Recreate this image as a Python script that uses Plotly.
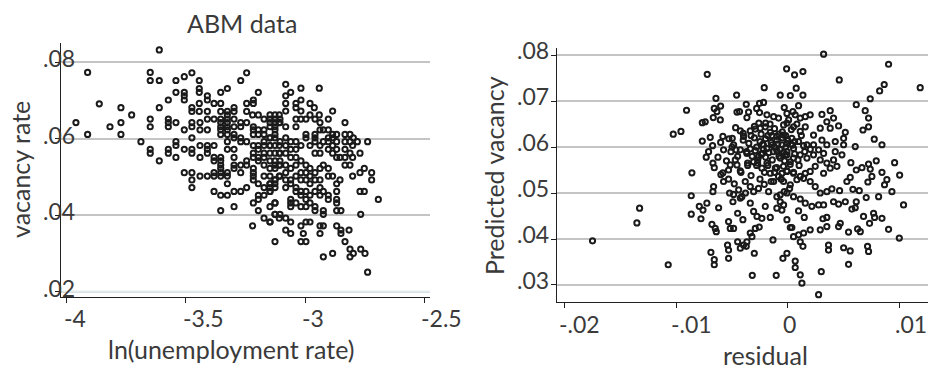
import plotly.graph_objects as go

# ---------------- data ----------------
# Left panel: ABM data, (ln unemployment rate, vacancy rate)
abm_points = [
    (-3.913, .0773), (-3.864, .0691), (-3.962, .0642), (-3.913, .0611), (-3.819, .0631),
    (-3.773, .0681), (-3.773, .0642), (-3.773, .0611), (-3.728, .0662), (-3.689, .0592),
    (-3.612, .0832),
    (-3.650, .0773), (-3.650, .0752), (-3.612, .0752), (-3.542, .0752), (-3.507, .0762),
    (-3.475, .0772), (-3.444, .0752), (-3.270, .0752), (-3.245, .0772),
    (-3.444, .0731), (-3.444, .0721), (-3.542, .0721), (-3.507, .0721), (-3.507, .0712),
    (-3.507, .0701), (-3.574, .0701), (-3.410, .0712), (-3.410, .0701), (-3.354, .0721),
    (-3.326, .0731), (-3.196, .0721), (-3.612, .0681),
    (-3.475, .0681), (-3.475, .0671), (-3.444, .0692), (-3.444, .0671), (-3.410, .0671),
    (-3.382, .0692), (-3.354, .0692), (-3.354, .0671), (-3.326, .0671), (-3.326, .0662),
    (-3.298, .0681), (-3.298, .0671), (-3.245, .0692), (-3.245, .0671), (-3.217, .0701),
    (-3.217, .0692), (-3.220, .0662), (-3.196, .0662), (-3.172, .0651),
    (-3.650, .0651), (-3.650, .0631), (-3.574, .0651), (-3.574, .0642), (-3.574, .0631),
    (-3.542, .0642), (-3.507, .0623), (-3.475, .0642), (-3.475, .0631), (-3.441, .0642),
    (-3.441, .0623), (-3.410, .0651), (-3.410, .0623), (-3.382, .0651),
    (-3.354, .0651), (-3.354, .0642), (-3.354, .0631), (-3.354, .0623), (-3.354, .0611),
    (-3.326, .0651), (-3.326, .0642), (-3.326, .0631), (-3.326, .0623), (-3.326, .0611),
    (-3.298, .0651), (-3.298, .0631), (-3.298, .0611), (-3.270, .0642), (-3.270, .0631),
    (-3.245, .0642), (-3.217, .0631), (-3.217, .0623), (-3.217, .0611), (-3.196, .0623),
    (-3.196, .0611), (-3.172, .0623), (-3.172, .0611), (-3.147, .0662), (-3.147, .0642),
    (-3.147, .0631), (-3.126, .0651), (-3.126, .0631), (-3.126, .0611), (-3.108, .0662),
    (-3.108, .0642),
    (-3.650, .0572), (-3.650, .0562), (-3.612, .0542), (-3.574, .0572), (-3.574, .0562),
    (-3.542, .0592), (-3.542, .0582), (-3.542, .0551), (-3.507, .0572), (-3.475, .0602),
    (-3.475, .0572), (-3.475, .0562), (-3.441, .0582), (-3.441, .0551), (-3.410, .0582),
    (-3.410, .0572), (-3.410, .0562), (-3.382, .0582), (-3.382, .0551), (-3.382, .0542),
    (-3.354, .0551), (-3.354, .0542), (-3.354, .0531), (-3.354, .0522), (-3.326, .0592),
    (-3.326, .0572), (-3.298, .0602), (-3.298, .0572), (-3.298, .0551), (-3.298, .0531),
    (-3.270, .0602), (-3.270, .0592), (-3.270, .0531), (-3.245, .0592), (-3.245, .0542),
    (-3.217, .0582), (-3.217, .0562), (-3.217, .0551), (-3.217, .0522), (-3.217, .0511),
    (-3.217, .0502), (-3.196, .0582), (-3.196, .0572), (-3.196, .0551), (-3.196, .0542),
    (-3.172, .0592), (-3.172, .0582), (-3.172, .0562), (-3.172, .0551), (-3.172, .0531),
    (-3.147, .0602), (-3.147, .0582), (-3.147, .0562), (-3.147, .0542), (-3.147, .0522),
    (-3.126, .0582), (-3.126, .0562), (-3.126, .0542), (-3.126, .0531), (-3.108, .0582),
    (-3.108, .0562), (-3.108, .0531),
    (-3.507, .0511), (-3.475, .0511), (-3.475, .0492), (-3.475, .0472), (-3.441, .0502),
    (-3.410, .0502), (-3.382, .0511), (-3.382, .0502), (-3.354, .0511), (-3.354, .0502),
    (-3.326, .0511), (-3.326, .0502), (-3.326, .0482), (-3.270, .0511), (-3.245, .0531),
    (-3.298, .0522),
    (-3.382, .0462), (-3.354, .0452), (-3.326, .0452), (-3.298, .0462), (-3.270, .0462),
    (-3.245, .0472), (-3.217, .0492), (-3.217, .0432), (-3.196, .0482), (-3.196, .0452),
    (-3.196, .0441), (-3.172, .0502), (-3.172, .0472), (-3.172, .0452), (-3.147, .0482),
    (-3.147, .0472), (-3.147, .0462), (-3.126, .0492), (-3.126, .0482), (-3.126, .0432),
    (-3.108, .0502),
    (-3.354, .0412), (-3.298, .0422), (-3.196, .0412), (-3.172, .0392), (-3.147, .0382),
    (-3.126, .0402), (-3.108, .0392), (-3.220, .0372), (-3.126, .0331),
    (-3.081, .0742), (-3.081, .0712), (-3.060, .0721), (-3.081, .0692), (-3.081, .0672),
    (-3.017, .0732), (-2.940, .0732), (-3.038, .0692), (-3.017, .0701), (-3.038, .0681),
    (-3.017, .0672), (-2.979, .0692), (-2.961, .0681), (-2.884, .0672), (-2.832, .0642),
    (-3.126, .0662), (-3.126, .0642), (-3.147, .0651), (-3.105, .0651), (-3.105, .0642),
    (-3.126, .0623), (-3.081, .0631), (-3.038, .0651), (-3.017, .0651),
    (-2.996, .0651), (-2.979, .0662), (-2.958, .0651), (-2.940, .0662), (-2.937, .0642),
    (-2.902, .0651), (-3.038, .0631), (-2.996, .0611), (-2.996, .0602), (-2.958, .0611),
    (-2.958, .0602), (-2.937, .0623), (-2.923, .0623), (-2.902, .0623), (-2.884, .0611),
    (-2.884, .0602), (-2.867, .0611), (-2.902, .0602), (-2.832, .0611), (-2.811, .0611),
    (-2.797, .0602), (-2.780, .0592), (-2.737, .0592), (-2.832, .0592), (-2.811, .0592),
    (-2.800, .0582), (-2.769, .0562),
    (-3.147, .0602), (-3.126, .0602), (-3.147, .0582), (-3.105, .0592), (-3.081, .0602),
    (-3.081, .0582), (-3.060, .0592), (-3.060, .0572), (-3.038, .0592), (-3.038, .0572),
    (-3.017, .0582), (-3.105, .0562), (-3.081, .0562), (-3.060, .0551), (-3.038, .0551),
    (-2.979, .0582), (-2.958, .0592), (-2.958, .0562), (-2.937, .0582), (-2.937, .0562),
    (-2.923, .0592), (-2.902, .0592), (-2.902, .0572), (-2.884, .0582), (-2.884, .0562),
    (-2.867, .0592), (-2.867, .0572), (-2.867, .0551), (-2.832, .0572), (-2.832, .0551),
    (-2.811, .0562), (-2.800, .0551), (-2.853, .0551), (-2.832, .0531), (-2.811, .0531),
    (-3.105, .0542), (-3.126, .0522), (-3.105, .0531), (-3.081, .0531), (-3.081, .0511),
    (-3.060, .0522), (-3.038, .0531), (-3.017, .0542), (-2.996, .0531), (-2.979, .0522),
    (-2.996, .0511), (-3.017, .0511), (-2.958, .0511), (-2.937, .0522), (-2.923, .0531),
    (-2.902, .0522), (-2.884, .0502), (-2.902, .0502), (-2.853, .0492), (-2.867, .0482),
    (-2.937, .0492), (-2.958, .0492), (-2.979, .0502), (-2.979, .0482), (-2.996, .0492),
    (-3.017, .0492), (-3.038, .0502), (-3.060, .0492), (-3.081, .0492), (-3.105, .0502),
    (-3.126, .0492), (-3.147, .0502), (-3.147, .0482), (-3.126, .0472), (-3.147, .0462),
    (-2.800, .0502), (-2.769, .0511), (-2.751, .0522), (-2.720, .0511), (-2.720, .0492),
    (-3.081, .0472), (-3.060, .0482), (-3.038, .0472), (-3.038, .0462), (-3.017, .0462),
    (-3.017, .0452), (-2.996, .0462), (-2.996, .0441), (-2.979, .0452), (-2.958, .0462),
    (-2.937, .0472), (-2.937, .0452), (-2.923, .0462), (-2.902, .0452), (-2.902, .0441),
    (-2.867, .0462), (-2.867, .0441), (-2.867, .0432), (-2.867, .0412), (-2.849, .0412),
    (-2.769, .0462), (-2.751, .0462), (-2.692, .0441), (-3.060, .0441), (-3.060, .0432),
    (-3.060, .0422), (-3.038, .0432), (-3.017, .0422), (-2.996, .0422), (-2.979, .0432),
    (-2.958, .0422), (-2.958, .0412), (-2.923, .0412), (-2.923, .0402), (-3.126, .0432),
    (-3.147, .0422), (-2.766, .0402),
    (-3.147, .0382), (-3.126, .0402), (-3.105, .0402), (-3.081, .0392), (-3.060, .0382),
    (-3.081, .0361), (-3.060, .0352), (-3.017, .0372), (-2.996, .0382), (-2.979, .0382),
    (-3.007, .0352), (-2.996, .0331), (-3.017, .0331), (-2.937, .0372), (-2.923, .0372),
    (-2.937, .0352), (-2.867, .0372), (-2.849, .0361), (-2.849, .0352), (-2.815, .0361),
    (-2.832, .0331), (-2.811, .0311), (-2.811, .0291), (-2.797, .0300), (-2.766, .0311),
    (-2.748, .0300), (-2.884, .0300), (-2.923, .0291), (-2.737, .0251),
]

# Right panel: (residual, predicted vacancy)
resid_points = [
    (-0.01748, .0396), (-0.01351, .0435), (-0.01327, .0467),
    (-0.00012, .0770), (-0.00722, .0758), (-0.00212, .0729), (-0.00459, .0713), (-0.00069, .0713),
    (-0.00644, .0706), (-0.00373, .0693), (-0.00254, .0695), (-0.00218, .0697), (-0.00659, .0684),
    (-0.00602, .0689), (-0.00635, .0677), (-0.00907, .0680), (-0.00668, .0664), (-0.00605, .0659),
    (-0.00766, .0653), (-0.00740, .0655), (-0.00456, .0676), (-0.00433, .0677), (-0.00352, .0676),
    (-0.00367, .0664), (-0.00280, .0684), (-0.00254, .0675), (-0.00188, .0670), (-0.00128, .0666),
    (-0.00084, .0663), (-0.00033, .0686), (-0.00009, .0673), (-0.01026, .0628), (-0.00957, .0634),
    (-0.00766, .0613), (-0.00695, .0621), (-0.00674, .0603), (-0.00710, .0590), (-0.00731, .0578),
    (-0.00626, .0578), (-0.00671, .0565), (-0.00659, .0555), (-0.00582, .0623), (-0.00602, .0610),
    (-0.00528, .0618), (-0.00498, .0619), (-0.00468, .0642), (-0.00426, .0635), (-0.00397, .0623),
    (-0.00337, .0635), (-0.00292, .0639), (-0.00248, .0641), (-0.00203, .0644), (-0.00158, .0632),
    (-0.00143, .0625), (-0.00099, .0623), (-0.00039, .0648), (0.00006, .0659), (-0.00486, .0605),
    (-0.00510, .0590), (-0.00576, .0594), (-0.00465, .0594), (-0.00426, .0594), (-0.00367, .0586),
    (-0.00337, .0596), (-0.00292, .0592), (-0.00263, .0579), (-0.00227, .0606), (-0.00227, .0586),
    (-0.00188, .0597), (-0.00143, .0605), (-0.00099, .0592), (-0.00054, .0605), (-0.00009, .0608),
    (-0.00009, .0583), (-0.00859, .0544), (-0.00582, .0544), (-0.00531, .0550), (-0.00516, .0561),
    (-0.00471, .0572), (-0.00456, .0561), (-0.00426, .0548), (-0.00361, .0565), (-0.00307, .0568),
    (-0.00271, .0565), (-0.00233, .0554), (-0.00188, .0565), (-0.00158, .0543), (-0.00113, .0554),
    (-0.00084, .0536), (-0.00054, .0543), (-0.00009, .0548), (0.00021, .0568), (-0.00576, .0525),
    (-0.00531, .0530), (-0.00665, .0514), (-0.00671, .0503), (-0.00522, .0500), (-0.00486, .0497),
    (-0.00441, .0507), (-0.00412, .0492), (-0.00382, .0525), (-0.00337, .0514), (-0.00307, .0503),
    (-0.00263, .0510), (-0.00212, .0519), (-0.00173, .0503), (-0.00128, .0525), (-0.00099, .0492),
    (-0.00069, .0481), (-0.00033, .0503), (0.00015, .0510), (-0.00865, .0494), (-0.00793, .0471),
    (-0.00760, .0463), (-0.00725, .0478), (-0.00865, .0454), (-0.00778, .0444), (-0.00620, .0468),
    (-0.00492, .0481), (-0.00450, .0456), (-0.00426, .0489), (-0.00337, .0478), (-0.00307, .0460),
    (-0.00277, .0449), (-0.00233, .0445), (-0.00203, .0471), (-0.00158, .0447), (-0.00099, .0467),
    (-0.00054, .0463), (-0.00009, .0442), (-0.00680, .0432), (-0.00650, .0423), (-0.00641, .0416),
    (-0.00531, .0438), (-0.00516, .0423), (-0.00486, .0423), (-0.00403, .0442), (-0.00337, .0413),
    (-0.00322, .0405), (-0.00292, .0423), (-0.00257, .0426), (-0.00367, .0394), (-0.00373, .0384),
    (-0.00426, .0380), (-0.00450, .0394), (-0.00540, .0387), (-0.00531, .0376), (-0.00397, .0387),
    (-0.00134, .0398), (-0.00689, .0371), (-0.00659, .0355), (-0.00659, .0344), (-0.00531, .0358),
    (-0.00301, .0369), (-0.01071, .0344), (-0.00319, .0321), (-0.00105, .0321), (-0.00045, .0358),
    (-0.00009, .0369), (0.00021, .0425),
    (0.00319, .0802), (0.00900, .0780), (0.00059, .0757), (0.00134, .0764), (0.00459, .0746),
    (0.00074, .0728), (0.00021, .0712), (0.00134, .0713), (0.00861, .0736), (0.00820, .0722),
    (0.01183, .0729), (0.00736, .0705), (0.00611, .0692), (0.00691, .0679), (0.00721, .0663),
    (0.00721, .0644), (0.00671, .0637), (0.00772, .0617), (0.00841, .0605), (0.00602, .0601),
    (0.00044, .0677), (0.00095, .0690), (0.00065, .0670), (0.00110, .0663), (0.00155, .0666),
    (0.00199, .0670), (0.00304, .0671), (0.00378, .0679), (0.00408, .0663), (0.00348, .0655),
    (0.00289, .0641), (0.00378, .0641), (0.00453, .0646), (0.00513, .0632), (0.00498, .0619),
    (0.00498, .0605), (0.00423, .0612), (0.00348, .0605), (0.00304, .0615), (0.00229, .0626),
    (0.00155, .0644), (0.00110, .0634), (0.00050, .0644), (-0.00009, .0652), (-0.00039, .0626),
    (0.00035, .0619), (0.00095, .0612), (0.00170, .0605), (0.00229, .0605), (0.00274, .0594),
    (0.00319, .0586), (0.00423, .0590), (0.00483, .0583), (-0.00009, .0590), (0.00050, .0597),
    (-0.00069, .0576), (-0.00024, .0583), (0.00050, .0576), (0.00110, .0583), (0.00170, .0576),
    (0.00229, .0583), (0.00289, .0572), (0.00348, .0565), (0.00408, .0572), (0.00438, .0558),
    (0.00378, .0554), (0.00319, .0543), (0.00244, .0558), (0.00199, .0547), (0.00155, .0543),
    (0.00110, .0536), (0.00050, .0543), (-0.00009, .0547), (-0.00039, .0525), (0.00021, .0518),
    (0.00080, .0529), (0.00140, .0532), (0.00199, .0525), (0.00244, .0514), (0.00289, .0500),
    (0.00348, .0503), (0.00393, .0509), (0.00462, .0505), (0.00408, .0481), (0.00453, .0476),
    (0.00513, .0481), (0.00572, .0465), (0.00611, .0481), (0.00602, .0468), (0.00527, .0525),
    (0.00557, .0534), (0.00563, .0566), (0.00611, .0550), (0.00662, .0555), (0.00721, .0563),
    (0.00736, .0552), (0.00715, .0524), (0.00751, .0536), (0.00790, .0570), (0.00841, .0545),
    (0.00885, .0529), (0.00864, .0518), (0.00930, .0503), (0.00954, .0566), (0.00999, .0539),
    (0.01034, .0474), (0.00700, .0490), (0.00811, .0492), (0.00581, .0508), (0.00638, .0505),
    (-0.00069, .0496), (-0.00009, .0500), (0.00050, .0492), (0.00110, .0487), (0.00155, .0478),
    (0.00214, .0471), (0.00274, .0474), (0.00319, .0474), (-0.00039, .0474), (0.00095, .0461),
    (0.00146, .0447), (0.00313, .0444), (0.00348, .0447), (0.00348, .0427), (0.00289, .0420),
    (0.00199, .0420), (0.00140, .0413), (0.00095, .0409), (0.00050, .0405), (0.00035, .0425),
    (0.00110, .0394), (0.00134, .0384), (0.00065, .0352), (0.00065, .0338), (0.00110, .0322),
    (0.00125, .0304), (0.00274, .0279), (0.00298, .0329), (0.00363, .0387), (0.00363, .0376),
    (0.00498, .0381), (0.00557, .0374), (0.00542, .0345), (0.00453, .0427), (0.00468, .0434),
    (0.00542, .0415), (0.00623, .0422), (0.00647, .0416), (0.00676, .0449), (0.00730, .0434),
    (0.00766, .0456), (0.00775, .0447), (0.00841, .0445), (0.00900, .0421), (0.00996, .0402),
    (0.00712, .0384), (0.00721, .0373),
    (-0.0030, .0620), (-0.0025, .0612), (-0.0020, .0618), (-0.0015, .0610), (-0.0010, .0615),
    (-0.0005, .0620), (0.0000, .0614), (-0.0028, .0600), (-0.0022, .0595), (-0.0017, .0588),
    (-0.0012, .0600), (-0.0007, .0595), (-0.0002, .0600), (0.0004, .0604), (-0.0035, .0608),
    (-0.0040, .0615), (-0.0032, .0580), (-0.0027, .0572), (-0.0020, .0578), (-0.0014, .0572),
    (-0.0008, .0580), (-0.0003, .0570), (0.0002, .0562), (-0.0018, .0560), (-0.0010, .0555),
    (-0.0036, .0560), (-0.0045, .0580), (-0.0050, .0600), (-0.0040, .0630), (-0.0030, .0645),
    (-0.0020, .0652), (-0.0012, .0640), (-0.0005, .0633), (0.0003, .0638), (-0.0024, .0628),
    (-0.0033, .0538), (-0.0025, .0530), (-0.0015, .0525), (-0.0006, .0530), (0.0005, .0545),
    (0.0010, .0560), (0.0015, .0590), (0.0020, .0595), (0.0012, .0625), (0.0008, .0650),
    (-0.0042, .0545), (-0.0055, .0570), (-0.0060, .0540), (-0.0048, .0520), (-0.0038, .0500),
    (-0.0022, .0605), (-0.0018, .0625), (-0.0008, .0628), (-0.0002, .0625), (0.0006, .0612),
    (-0.0013, .0590), (-0.0004, .0588), (0.0006, .0585), (-0.0024, .0585), (-0.0028, .0560),
    (-0.0021, .0545), (-0.0012, .0545), (-0.0004, .0558), (0.0009, .0572), (-0.0016, .0650),
    (-0.0009, .0607), (-0.0033, .0625), (-0.0037, .0590), (0.0014, .0603), (-0.0026, .0652),
]

abm_x = [p[0] for p in abm_points]
abm_y = [p[1] for p in abm_points]
res_x = [p[0] for p in resid_points]
res_y = [p[1] for p in resid_points]

left_xticks = [-4, -3.5, -3, -2.5]
left_xlabels = ["-4", "-3.5", "-3", "-2.5"]
left_yticks = [0.02, 0.04, 0.06, 0.08]
left_ylabels = [".02", ".04", ".06", ".08"]
right_xticks = [-0.02, -0.01, 0.0, 0.01]
right_xlabels = ["-.02", "-.01", "0", ".01"]
right_yticks = [0.03, 0.04, 0.05, 0.06, 0.07, 0.08]
right_ylabels = [".03", ".04", ".05", ".06", ".07", ".08"]

# ---------------- figure ----------------
W, H = 931, 374
FONT = "Lato"
TXT = "#3a3a3a"
GRID = "#c4c4c4"

def px_x(p):
    return p / W

def px_y(p):
    return 1 - p / H

marker = dict(symbol="circle-open", size=5.2, color="#1a1a1a", line=dict(width=2, color="#1a1a1a"))

fig = go.Figure()
fig.add_trace(go.Scatter(x=abm_x, y=abm_y, mode="markers", marker=marker,
                         xaxis="x", yaxis="y", showlegend=False, hoverinfo="x+y"))
fig.add_trace(go.Scatter(x=res_x, y=res_y, mode="markers", marker=marker,
                         xaxis="x2", yaxis="y2", showlegend=False, hoverinfo="x+y"))

axis_common = dict(showline=True, linecolor="#202020", linewidth=1.3, zeroline=False,
                   ticks="outside", ticklen=5, tickwidth=1.2, tickcolor="#202020",
                   showticklabels=False)

fig.update_layout(
    width=W, height=H, autosize=False,
    margin=dict(l=0, r=0, t=0, b=0),
    paper_bgcolor="white", plot_bgcolor="white",
    font=dict(family=FONT, color=TXT),
    xaxis=dict(domain=[px_x(60.7), px_x(430)], range=[-4.026, -2.475],
               tickvals=left_xticks, showgrid=False, anchor="y", **axis_common),
    yaxis=dict(domain=[px_y(297), px_y(43)], range=[0.0186, 0.085],
               tickvals=left_yticks, showgrid=True, gridcolor=GRID, gridwidth=2,
               anchor="x", **axis_common),
    xaxis2=dict(domain=[px_x(557.3), px_x(927.7)], range=[-0.02063, 0.0125],
                tickvals=right_xticks, showgrid=False, anchor="y2", **axis_common),
    yaxis2=dict(domain=[px_y(302), px_y(47.7)], range=[0.0263, 0.0816],
                tickvals=right_yticks, showgrid=True, gridcolor=GRID, gridwidth=2,
                anchor="x2", **axis_common),
)

# lighter bottom gridline of left panel (.02)
fig.add_shape(type="line", xref="x domain", yref="y", x0=0.004, x1=1, y0=0.02, y1=0.02,
              line=dict(color="#e2ebed", width=2.2), layer="above")

ann = []
TICKF = dict(family=FONT, size=23, color=TXT)
TITLEF = dict(family=FONT, size=25, color=TXT)

for v, t in zip(left_xticks, left_xlabels):
    ann.append(dict(x=v, xref="x", y=0, yref="y domain", text=t, showarrow=False,
                    xanchor="left", yanchor="middle", xshift=-5, yshift=-21, font=TICKF))
for v, t in zip(left_yticks, left_ylabels):
    ann.append(dict(x=0, xref="x domain", y=v, yref="y", text=t, showarrow=False,
                    xanchor="right", yanchor="middle", xshift=16, yshift=4, font=TICKF))
for v, t in zip(right_xticks, right_xlabels):
    ann.append(dict(x=v, xref="x2", y=0, yref="y2 domain", text=t, showarrow=False,
                    xanchor="left", yanchor="middle", xshift=-7, yshift=-22, font=TICKF))
for v, t in zip(right_yticks, right_ylabels):
    ann.append(dict(x=0, xref="x2 domain", y=v, yref="y2", text=t, showarrow=False,
                    xanchor="right", yanchor="middle", xshift=-6, yshift=5, font=TICKF))

# titles
ann.append(dict(x=px_x(241.5), xref="paper", y=px_y(23), yref="paper", text="ABM data",
                showarrow=False, xanchor="center", yanchor="middle", font=TITLEF))
ann.append(dict(x=px_x(231), xref="paper", y=px_y(349), yref="paper", text="ln(unemployment rate)",
                showarrow=False, xanchor="center", yanchor="middle", font=TITLEF))
ann.append(dict(x=px_x(765), xref="paper", y=px_y(355), yref="paper", text="residual",
                showarrow=False, xanchor="center", yanchor="middle", font=TITLEF))
ann.append(dict(x=px_x(20), xref="paper", y=px_y(170), yref="paper", text="vacancy rate",
                showarrow=False, xanchor="center", yanchor="middle", textangle=-90, font=TITLEF))
ann.append(dict(x=px_x(494), xref="paper", y=px_y(176), yref="paper", text="Predicted vacancy",
                showarrow=False, xanchor="center", yanchor="middle", textangle=-90, font=TITLEF))

fig.update_layout(annotations=ann)
fig.write_html("out.html",
               config={"displayModeBar": False},
               post_script="document.body.style.margin='0';document.body.style.padding='0';"
                           "document.body.style.overflow='hidden';window.dispatchEvent(new Event('resize'));")
